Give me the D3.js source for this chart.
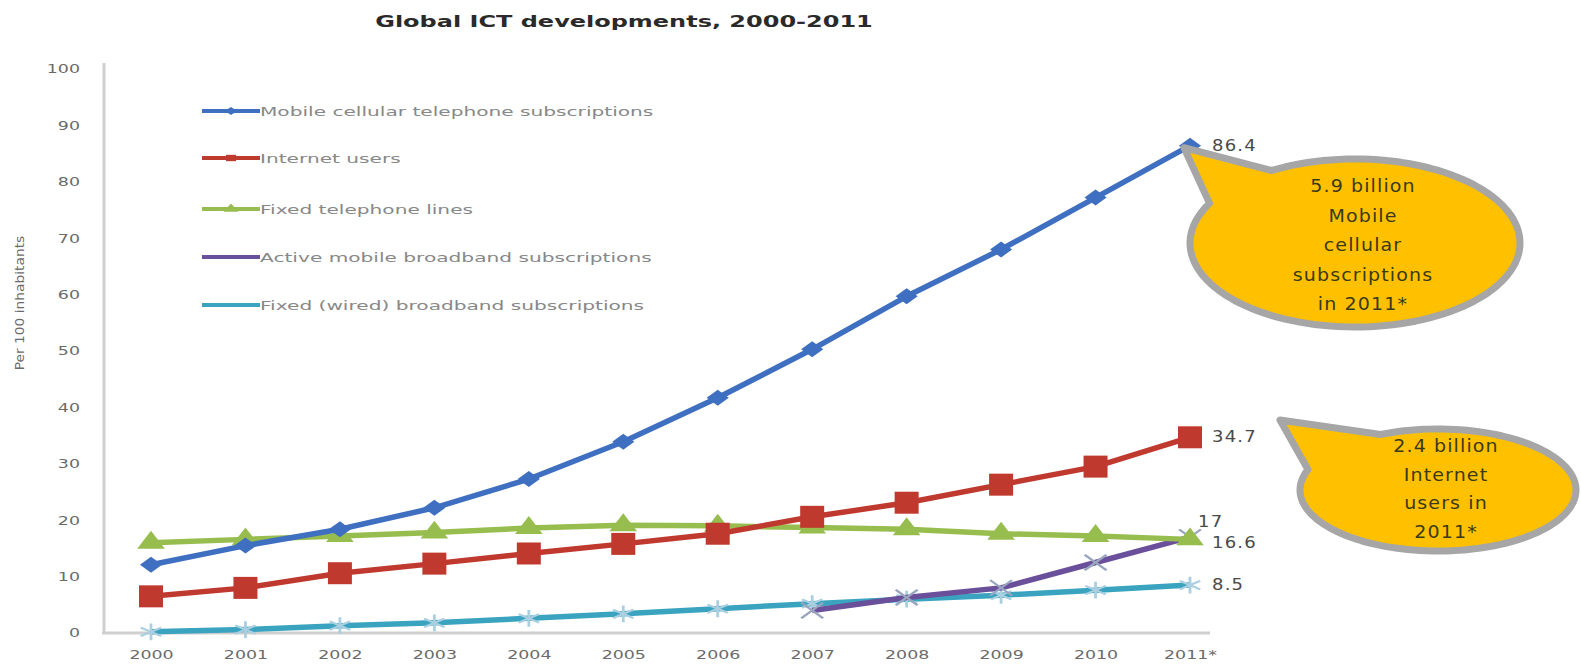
<!DOCTYPE html>
<html>
<head>
<meta charset="utf-8">
<script src="https://cdn.jsdelivr.net/npm/d3@7"></script>
<style>
  html, body { margin: 0; padding: 0; background: #fff; }
  svg { display: block; }
  text { font-family: "DejaVu Sans", Verdana, sans-serif; }
</style>
</head>
<body>
<svg id="chart" width="1581" height="669"></svg>
<script>
// Years on the x axis
const years = ["2000","2001","2002","2003","2004","2005","2006","2007","2008","2009","2010","2011*"];
const yTicks = [0,10,20,30,40,50,60,70,80,90,100];

// Per 100 inhabitants
const mobileCellular = [12.1, 15.5, 18.4, 22.2, 27.3, 33.9, 41.7, 50.3, 59.7, 68.0, 77.2, 86.4];
const internetUsers  = [6.5, 8.0, 10.6, 12.3, 14.1, 15.8, 17.6, 20.6, 23.1, 26.3, 29.5, 34.7];
const fixedPhone     = [16.0, 16.6, 17.2, 17.8, 18.6, 19.1, 19.0, 18.7, 18.4, 17.6, 17.2, 16.6];
const mobileBroadband = [null, null, null, null, null, null, null, 4.0, 6.3, 8.0, 12.5, 17.0];
const fixedBroadband = [0.2, 0.6, 1.3, 1.8, 2.6, 3.4, 4.3, 5.2, 6.0, 6.7, 7.6, 8.5];

const seriesNames = [
  "Mobile cellular telephone subscriptions",
  "Internet users",
  "Fixed telephone lines",
  "Active mobile broadband subscriptions",
  "Fixed (wired) broadband subscriptions"
];

const endLabels = ["86.4", "34.7", "16.6", "17", "8.5"];

const callout1 = ["5.9 billion", "Mobile", "cellular", "subscriptions", "in 2011*"];
const callout2 = ["2.4 billion", "Internet", "users  in", "2011*"];

const series = [
  { name: seriesNames[0], values: mobileCellular,  color: "#3f6fc0", marker: "diamond" },
  { name: seriesNames[1], values: internetUsers,   color: "#c0392f", marker: "square" },
  { name: seriesNames[2], values: fixedPhone,      color: "#96bd4e", marker: "triangle" },
  { name: seriesNames[3], values: mobileBroadband, color: "#6a4f9a", marker: "x" },
  { name: seriesNames[4], values: fixedBroadband,  color: "#3aa3bf", marker: "star" }
];

const svg = d3.select("#chart");

const x = d3.scalePoint().domain(years).range([151, 1190]);
const y = d3.scaleLinear().domain([0, 100]).range([633, 69]);

// Title
svg.append("text")
  .attr("transform", `translate(624,27) scale(1.5,1)`)
  .attr("text-anchor", "middle")
  .attr("font-size", 16).attr("font-weight", "bold")
  .attr("fill", "#2a2a2a")
  .text("Global ICT developments, 2000-2011");

// Axes (labels drawn wide)
const tickStretch = 1.45;
const yAxis = svg.append("g").attr("transform", "translate(104,0)")
  .call(d3.axisLeft(y).tickValues(yTicks).tickSize(0).tickPadding(24));
const xAxis = svg.append("g").attr("transform", "translate(0,633)")
  .call(d3.axisBottom(x).tickSize(0).tickPadding(17));
[yAxis, xAxis].forEach(g => {
  g.select(".domain").remove();
  g.selectAll("text").attr("font-size", 12).attr("fill", "#6a6a6a")
    .attr("transform", `scale(${tickStretch},1)`);
});
yAxis.selectAll("text").attr("x", -24 / tickStretch);

svg.append("line").attr("x1", 104).attr("x2", 104).attr("y1", y(100) - 6).attr("y2", y(0))
  .attr("stroke", "#cfcfcf").attr("stroke-width", 3);
svg.append("line").attr("x1", 102).attr("x2", 1210).attr("y1", y(0)).attr("y2", y(0))
  .attr("stroke", "#cfcfcf").attr("stroke-width", 3);

svg.append("text")
  .attr("transform", `translate(24,303) rotate(-90) scale(1.15,1)`)
  .attr("text-anchor", "middle").attr("font-size", 12).attr("fill", "#6a6a6a")
  .attr("font-family", "'Liberation Sans', Arial, sans-serif")
  .text("Per 100 inhabitants");

// Marker drawing
function drawMarker(g, type, color, cx, cy) {
  if (type === "diamond") {
    g.append("path").attr("d", d3.symbol(d3.symbolDiamond2, 200)())
      .attr("transform", `translate(${cx},${cy}) scale(1.25,0.9)`).attr("fill", color);
  } else if (type === "square") {
    g.append("rect").attr("x", cx - 12).attr("y", cy - 11).attr("width", 24).attr("height", 22)
      .attr("fill", color);
  } else if (type === "triangle") {
    g.append("path").attr("d", d3.symbol(d3.symbolTriangle, 230)())
      .attr("transform", `translate(${cx},${cy}) scale(1.2,0.9)`).attr("fill", color);
  } else if (type === "x") {
    g.append("path").attr("d", d3.symbol(d3.symbolX, 160)())
      .attr("transform", `translate(${cx},${cy}) scale(1.4,1)`)
      .attr("stroke", "#9aa6c0").attr("stroke-width", 2).attr("fill", "none");
  } else if (type === "star") {
    g.append("path").attr("d", d3.symbol(d3.symbolAsterisk, 200)())
      .attr("transform", `translate(${cx},${cy}) scale(1.4,1)`)
      .attr("stroke", "#a9cfe0").attr("stroke-width", 2).attr("fill", "none");
  }
}

// Lines and markers
const line = d3.line()
  .defined(d => d.v !== null)
  .x(d => x(d.year)).y(d => y(d.v));

const drawOrder = [4, 3, 2, 1, 0];
drawOrder.forEach(i => {
  const s = series[i];
  const pts = years.map((yr, j) => ({ year: yr, v: s.values[j] }));
  const g = svg.append("g");
  g.append("path").datum(pts).attr("d", line)
    .attr("fill", "none").attr("stroke", s.color).attr("stroke-width", 5.5)
    .attr("stroke-linejoin", "round");
  pts.filter(p => p.v !== null).forEach(p => drawMarker(g, s.marker, s.color, x(p.year), y(p.v)));
});

// End-of-line value labels
const endOffsets = [[22, 0], [22, 0], [22, 4], [8, -15], [22, 0]];
series.forEach((s, i) => {
  const last = s.values[s.values.length - 1];
  svg.append("text")
    .attr("transform", `translate(${x(years[years.length - 1]) + endOffsets[i][0]},${y(last) + endOffsets[i][1] + 5}) scale(1.2,1)`)
    .attr("font-size", 15).attr("fill", "#4a4a4a")
    .attr("font-family", "'Liberation Sans', Arial, sans-serif")
    .attr("letter-spacing", 1)
    .text(endLabels[i]);
});

// Legend
const legendRows = [111, 158, 209, 257, 305];
series.forEach((s, i) => {
  const g = svg.append("g");
  g.append("line").attr("x1", 202).attr("x2", 260)
    .attr("y1", legendRows[i]).attr("y2", legendRows[i])
    .attr("stroke", s.color).attr("stroke-width", 4);
  if (s.marker === "diamond" || s.marker === "square" || s.marker === "triangle") {
    g.append("path").attr("d", d3.symbol(
        s.marker === "diamond" ? d3.symbolDiamond2 : s.marker === "square" ? d3.symbolSquare : d3.symbolTriangle, 50)())
      .attr("transform", `translate(231,${legendRows[i]}) scale(1.4,0.9)`).attr("fill", s.color);
  }
  g.append("text")
    .attr("transform", `translate(260,${legendRows[i] + 5}) scale(1.55,1)`)
    .attr("font-size", 13).attr("fill", "#888")
    .text(s.name);
});

// Speech-bubble callouts
function bubblePath(cx, cy, rx, ry, tipX, tipY, a0, a1) {
  // ellipse outline that leaves a gap between angles a1 and a0 for the pointed tail
  const pts = [];
  const n = 120;
  for (let k = 0; k <= n; k++) {
    const a = a0 + (a1 + 2 * Math.PI - a0) * k / n;
    pts.push([cx + rx * Math.cos(a), cy + ry * Math.sin(a)]);
  }
  return "M" + tipX + "," + tipY + "L" + pts.map(p => p.join(",")).join("L") + "Z";
}

function callout(cx, cy, rx, ry, tipX, tipY, a0, a1, lines, lineH, firstY) {
  const g = svg.append("g");
  g.append("path").attr("d", bubblePath(cx, cy, rx, ry, tipX, tipY, a0, a1))
    .attr("fill", "#ffc000").attr("stroke", "#a6a6a6").attr("stroke-width", 7)
    .attr("stroke-linejoin", "round");
  lines.forEach((t, k) => {
    g.append("text")
      .attr("transform", `translate(${cx + 8},${firstY + k * lineH}) scale(1.12,1)`)
      .attr("text-anchor", "middle").attr("font-size", 17)
      .attr("fill", "#3a3a1a").attr("letter-spacing", 1)
      .text(t);
  });
}

const tip1 = [x(years[11]) - 6, y(mobileCellular[11]) + 2];
callout(1355, 243, 165, 84, tip1[0], tip1[1], -2.1, -2.65, callout1, 29.5, 192);

callout(1438, 490, 138, 61, 1280, 420, -2.0, -2.8, callout2, 28.5, 452);
</script>
</body>
</html>
